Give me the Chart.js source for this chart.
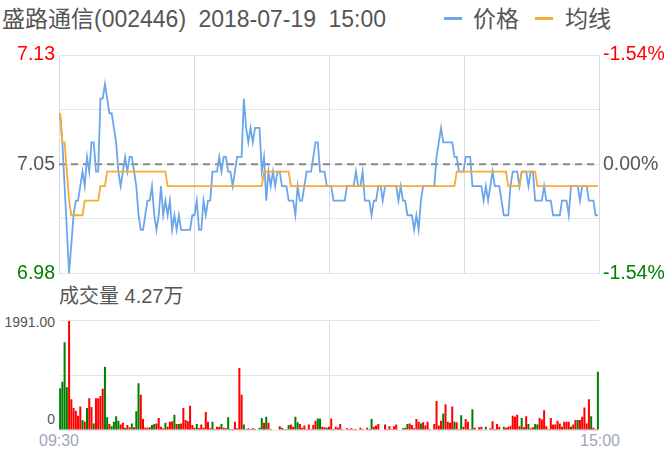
<!DOCTYPE html>
<html><head><meta charset="utf-8">
<script src="https://cdn.jsdelivr.net/npm/chart.js@4/dist/chart.umd.min.js"></script>
<style>
body{margin:0;background:#fff;width:667px;height:459px;overflow:hidden;position:relative;font-family:"Liberation Sans","Noto Sans CJK SC",sans-serif;}
.t{position:absolute;white-space:nowrap;line-height:1;}
canvas{position:absolute;left:0;}
#c1{top:0;}
#c2{top:300px;}
.sw{position:absolute;height:3px;width:18px;}
</style></head><body>
<div class="t" style="left:2px;top:7.5px;font-size:23px;word-spacing:6px;color:#555">盛路通信(002446) 2018-07-19 15:00</div>
<div class="sw" style="left:444px;top:17px;background:#6ba6e9"></div>
<div class="t" style="left:473px;top:7.5px;font-size:23px;color:#555">价格</div>
<div class="sw" style="left:535px;top:17px;background:#f8ab34"></div>
<div class="t" style="left:565px;top:7.5px;font-size:23px;color:#555">均线</div>
<div class="t" style="left:59px;top:286px;font-size:20px;color:#555">成交量 4.27万</div>
<div class="t" id="vtop" style="right:612px;top:314.5px;font-size:14px;color:#555"></div>
<div class="t" id="vbot" style="right:612px;top:411.5px;font-size:14px;color:#555"></div>
<div class="t" id="tl0" style="left:59px;top:433px;font-size:16px;color:#9fa7b5;transform:translateX(-50%)"></div>
<div class="t" id="tl1" style="left:600px;top:433px;font-size:16px;color:#9fa7b5;transform:translateX(-50%)"></div>
<canvas id="c1" width="667" height="290"></canvas>
<canvas id="c2" width="667" height="150"></canvas>
<script>
// ---- data (one point per minute, 09:30 .. 15:00) ----
const timeLabels = ['09:30', '15:00'];
const prevClose = 7.055;
const priceMin = 6.98, priceMax = 7.13;
const pctMin = -1.54, pctMax = 1.54;
const leftTickLabels = ['6.98', '7.05', '7.13'];      // bottom, middle, top
const rightTickLabels = ['-1.54%', '0.00%', '-1.54%']; // bottom, middle, top
const volMax = 1991;
const volTickLabels = ['0', '1991.00'];

const price = [
7.09,7.07,7.04,7.01,6.98,7.00,7.02,7.03,7.03,7.04,
7.05,7.04,7.06,7.05,7.07,7.07,7.05,7.05,7.10,7.10,
7.11,7.10,7.09,7.09,7.08,7.07,7.05,7.04,7.05,7.06,
7.05,7.06,7.06,7.05,7.04,7.02,7.01,7.01,7.02,7.03,
7.03,7.04,7.02,7.01,7.02,7.04,7.02,7.03,7.02,7.03,
7.01,7.02,7.01,7.02,7.01,7.01,7.01,7.01,7.01,7.02,
7.02,7.03,7.01,7.01,7.03,7.02,7.03,7.03,7.05,7.05,
7.05,7.06,7.05,7.06,7.06,7.05,7.05,7.04,7.05,7.06,
7.06,7.06,7.10,7.08,7.07,7.08,7.07,7.08,7.08,7.08,
7.05,7.06,7.03,7.05,7.04,7.05,7.04,7.05,7.05,7.04,
7.04,7.04,7.03,7.03,7.03,7.02,7.04,7.03,7.03,7.04,
7.05,7.05,7.05,7.06,7.07,7.07,7.05,7.05,7.05,7.04,
7.04,7.04,7.03,7.03,7.03,7.03,7.03,7.03,7.04,7.04,
7.04,7.04,7.05,7.04,7.04,7.05,7.03,7.03,7.03,7.02,
7.03,7.03,7.04,7.04,7.03,7.04,7.04,7.04,7.04,7.04,
7.04,7.03,7.04,7.03,7.03,7.02,7.02,7.02,7.01,7.02,
7.01,7.03,7.04,7.04,7.04,7.04,7.04,7.04,7.06,7.07,
7.08,7.07,7.07,7.07,7.07,7.07,7.06,7.06,7.05,7.05,
7.05,7.06,7.06,7.06,7.04,7.04,7.04,7.04,7.04,7.03,
7.04,7.03,7.04,7.05,7.04,7.04,7.04,7.03,7.02,7.02,
7.02,7.04,7.05,7.05,7.05,7.04,7.05,7.05,7.05,7.04,
7.05,7.05,7.03,7.03,7.03,7.03,7.04,7.03,7.03,7.03,
7.02,7.02,7.02,7.02,7.03,7.03,7.03,7.02,7.04,7.04,
7.04,7.04,7.03,7.04,7.04,7.04,7.03,7.03,7.03,7.02,
7.02];

const avgPrice = [
7.09,7.07,7.07,7.05,7.03,7.02,7.02,7.02,7.02,7.02,
7.02,7.03,7.03,7.03,7.03,7.03,7.03,7.03,7.04,7.04,
7.04,7.05,7.05,7.05,7.05,7.05,7.05,7.05,7.05,7.05,
7.05,7.05,7.05,7.05,7.05,7.05,7.05,7.05,7.05,7.05,
7.05,7.05,7.05,7.05,7.05,7.05,7.05,7.05,7.04,7.04,
7.04,7.04,7.04,7.04,7.04,7.04,7.04,7.04,7.04,7.04,
7.04,7.04,7.04,7.04,7.04,7.04,7.04,7.04,7.04,7.04,
7.04,7.04,7.04,7.04,7.04,7.04,7.04,7.04,7.04,7.04,
7.04,7.04,7.04,7.04,7.04,7.04,7.04,7.04,7.04,7.04,
7.04,7.05,7.05,7.05,7.05,7.05,7.05,7.05,7.05,7.05,
7.05,7.05,7.05,7.04,7.04,7.04,7.04,7.04,7.04,7.04,
7.04,7.04,7.04,7.04,7.04,7.04,7.04,7.04,7.04,7.04,
7.04,7.04,7.04,7.04,7.04,7.04,7.04,7.04,7.04,7.04,
7.04,7.04,7.04,7.04,7.04,7.04,7.04,7.04,7.04,7.04,
7.04,7.04,7.04,7.04,7.04,7.04,7.04,7.04,7.04,7.04,
7.04,7.04,7.04,7.04,7.04,7.04,7.04,7.04,7.04,7.04,
7.04,7.04,7.04,7.04,7.04,7.04,7.04,7.04,7.04,7.04,
7.04,7.04,7.04,7.04,7.04,7.04,7.04,7.05,7.05,7.05,
7.05,7.05,7.05,7.05,7.05,7.05,7.05,7.05,7.05,7.05,
7.05,7.05,7.05,7.05,7.05,7.05,7.05,7.05,7.05,7.05,
7.04,7.04,7.04,7.04,7.04,7.04,7.05,7.05,7.05,7.05,
7.05,7.05,7.05,7.04,7.04,7.04,7.04,7.04,7.04,7.04,
7.04,7.04,7.04,7.04,7.04,7.04,7.04,7.04,7.04,7.04,
7.04,7.04,7.04,7.04,7.04,7.04,7.04,7.04,7.04,7.04,
7.04];

const volume = [
760,880,1600,780,1991,560,400,350,260,430,
180,150,400,580,420,120,580,580,620,750,
1150,230,110,70,150,250,170,100,130,40,
90,50,120,50,340,850,640,200,40,40,
50,90,110,120,220,60,30,130,60,150,
160,280,110,110,120,400,180,160,440,90,
40,110,30,100,40,330,150,30,150,20,
60,60,110,40,30,230,20,20,150,30,
1130,640,100,20,30,20,30,20,10,40,
220,130,240,130,20,10,10,10,70,40,
20,20,90,100,60,240,140,110,40,80,
20,100,20,90,170,210,210,60,50,40,
60,210,20,
60,40,110,20,10,30,20,30,20,20,
10,40,20,10,40,20,200,60,80,110,
10,10,100,20,70,20,70,100,10,10,
30,40,110,120,90,30,200,150,120,140,
80,150,20,10,110,530,80,170,300,470,
150,130,430,150,140,20,270,60,200,150,
20,380,40,10,50,60,10,60,10,30,
160,20,110,60,10,60,40,60,70,260,
240,280,70,220,50,250,110,30,50,110,
100,220,190,360,70,20,220,100,100,170,
120,60,150,150,150,60,100,180,180,180,
240,410,120,560,250,40,20,1060];

// r = up minute (red), g = down minute (green)
const volDir = (
'ggggrrrrrr'+'grgrrgrrrr'+'ggrggggrrg'+'rrgrggrrrr'+'rggrrrrgrr'+'rgrgrrrrrr'+
'rgrrrrrrgr'+'rrgrrggrrr'+'rrgrrgrrrg'+'grgrgrrrrg'+'rrgrrggrrr'+'rrrrrggrrg'+
'rrg'+
'rrrrrrrrrr'+'grrrrrgrrr'+'rrrrrrrrgr'+'grgrrrrrgr'+'rrrrrrrrgr'+'rrrgrrgrrr'+
'rgrrrrrgrr'+'rrrrrgrrrr'+'rrrgrrgrrg'+'grrrrgrrrr'+'rrrrrgrrgr'+'rrrrgrrg').split('');

// ---- drawing ----
document.getElementById('vtop').textContent = volTickLabels[1];
document.getElementById('vbot').textContent = volTickLabels[0];
document.getElementById('tl0').textContent = timeLabels[0];
document.getElementById('tl1').textContent = timeLabels[1];

const xy = arr => arr.map((v, i) => ({x: i, y: v}));
const N = price.length;
const xMin = -0.5, xMax = N - 0.5;
const gridH = '#e2e5eb', gridV = '#d3dbe8';
const tickFont = {family: '"Liberation Sans", Arial, sans-serif', size: 19.5};

new Chart(document.getElementById('c1'), {
  type: 'line',
  data: {datasets: [
    {data: xy(avgPrice), borderColor: '#f8ab34', borderWidth: 1.8, pointRadius: 0, tension: 0, order: 1},
    {data: xy(price), borderColor: '#6ba6e9', borderWidth: 1.8, pointRadius: 0, tension: 0, order: 2},
    {data: [{x: xMin, y: prevClose}, {x: xMax, y: prevClose}], borderColor: '#888', borderWidth: 2,
     borderDash: [7, 5], pointRadius: 0, order: 3}
  ]},
  options: {
    responsive: false, animation: false, events: [],
    layout: {padding: {top: 55, bottom: 16.5, left: 0, right: 0}},
    plugins: {legend: {display: false}, tooltip: {enabled: false}},
    scales: {
      x: {type: 'linear', min: xMin, max: xMax,
          afterBuildTicks: s => { s.ticks = [0, 1, 2, 3, 4].map(k => ({value: xMin + (xMax - xMin) * k / 4})); },
          ticks: {display: false}, grid: {color: gridV, drawTicks: false}, border: {display: false},
          afterFit: s => { s.height = 0; }},
      y: {position: 'left', min: priceMin, max: priceMax,
          afterBuildTicks: s => { s.ticks = [0, 1, 2, 3, 4].map(k => ({value: priceMin + (priceMax - priceMin) * k / 4})); },
          ticks: {font: tickFont, padding: 4, autoSkip: false,
                  callback: (v, i) => (i % 2 === 0 ? leftTickLabels[i / 2] : ''),
                  color: c => ['#008000', '#555', '#555', '#555', '#ff0000'][c.index]},
          grid: {color: gridH, drawTicks: false}, border: {display: false},
          afterFit: s => { s.width = 59; }},
      y2: {position: 'right', min: pctMin, max: pctMax,
          afterBuildTicks: s => { s.ticks = [pctMin, 0, pctMax].map(v => ({value: v})); },
          ticks: {font: tickFont, padding: 4, autoSkip: false,
                  callback: (v, i) => rightTickLabels[i],
                  color: c => ['#008000', '#555', '#ff0000'][c.index]},
          grid: {display: false, drawTicks: false}, border: {display: false},
          afterFit: s => { s.width = 68; }}
    }
  }
});

new Chart(document.getElementById('c2'), {
  type: 'bar',
  data: {datasets: [{data: xy(volume), backgroundColor: volDir.map(c => c === 'r' ? '#ff0000' : '#008000'),
                     borderWidth: 0, barPercentage: 0.9, categoryPercentage: 1}]},
  options: {
    responsive: false, animation: false, events: [],
    layout: {padding: {top: 20.7, bottom: 20, left: 0, right: 0}},
    plugins: {legend: {display: false}, tooltip: {enabled: false}},
    scales: {
      x: {type: 'linear', min: xMin, max: xMax, offset: false,
          afterBuildTicks: s => { s.ticks = [{value: xMin}, {value: xMax}]; },
          ticks: {display: false}, grid: {color: gridV, drawTicks: false}, border: {display: false},
          afterFit: s => { s.height = 0; }},
      y: {position: 'left', min: 0, max: volMax,
          afterBuildTicks: s => { s.ticks = [0, volMax / 2, volMax].map(v => ({value: v})); },
          ticks: {display: false}, grid: {color: gridH, drawTicks: false}, border: {display: false},
          afterFit: s => { s.width = 59; }},
      y2: {position: 'right', display: true, min: 0, max: volMax,
          ticks: {display: false}, grid: {display: false}, border: {display: false},
          afterFit: s => { s.width = 68; }}
    }
  }
});
</script>
</body></html>
